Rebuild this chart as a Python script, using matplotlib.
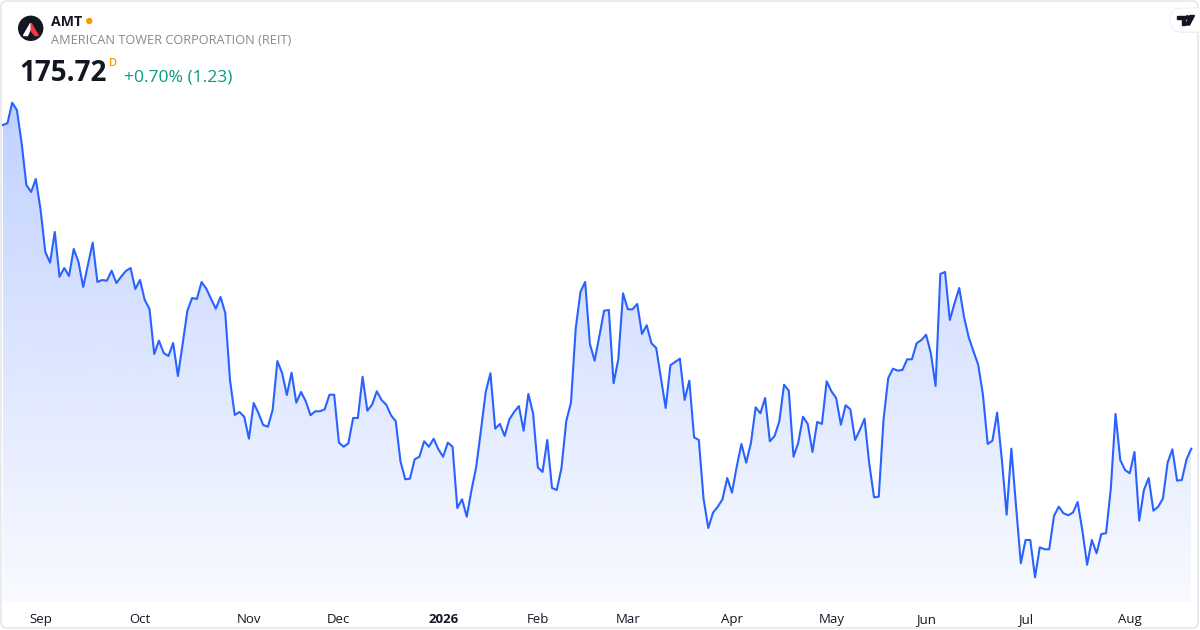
import numpy as np
import pandas as pd
import matplotlib.pyplot as plt
from matplotlib.patches import Circle, Polygon, FancyBboxPatch

plt.rcParams['font.family'] = ['Open Sans', 'DejaVu Sans']

symbol = "AMT"
company = "AMERICAN TOWER CORPORATION (REIT)"
last_price = "175.72"
change_text = "+0.70% (1.23)"

first_day = "2025-08-20"
holidays = ["2025-09-01", "2025-11-27", "2025-12-25", "2026-01-01", "2026-01-19",
            "2026-02-16", "2026-04-03", "2026-05-25", "2026-06-19", "2026-07-03"]
tick_months = ["2025-09-01", "2025-10-01", "2025-11-01", "2025-12-01", "2026-01-01", "2026-02-01",
               "2026-03-01", "2026-04-01", "2026-05-01", "2026-06-01", "2026-07-01", "2026-08-01"]
tick_labels = ["Sep", "Oct", "Nov", "Dec", "2026", "Feb", "Mar", "Apr", "May", "Jun", "Jul", "Aug"]

# daily closes
close_a = [213.27, 213.47, 215.86, 215.01, 211.18, 206.31, 205.50, 207.01, 203.41, 198.54,
           197.30, 200.86, 195.67, 196.68, 195.75, 198.89, 197.38, 194.48, 197.03, 199.62,
           195.06, 195.29, 195.21, 196.37, 194.94, 195.67, 196.33, 196.68, 194.25, 195.29,
           192.97, 191.93, 186.71, 188.25, 186.82, 186.47, 187.98, 184.15, 187.87, 191.73,
           193.20, 193.09, 195.06, 194.28, 193.09, 191.96, 193.32, 191.46, 183.69, 179.63,
           179.98, 179.43, 176.88, 181.02, 179.86, 178.47, 178.27, 180.21, 185.89, 184.50,
           181.95, 184.54]
close_b = [181.06, 182.30, 181.22, 179.60, 180.06, 180.06, 180.29, 181.98, 181.98, 176.42,
           175.95, 176.35, 179.28, 179.28, 184.07, 180.13, 180.82, 182.38, 181.37, 180.82,
           179.60, 178.90, 174.26, 172.17, 172.24, 174.49, 174.79, 176.58, 175.95, 176.88,
           175.65, 174.79, 176.42, 175.95, 168.84, 169.85, 167.83, 170.93, 173.63, 177.89,
           182.30, 184.47, 178.04, 178.59, 177.19, 179.13, 179.98, 180.67, 177.81, 182.07,
           179.83, 173.56, 173.02, 176.73, 171.16, 170.93, 173.48, 178.90, 181.06, 189.64,
           193.90, 195.06]
close_c = [187.87, 185.93, 188.79, 191.73, 191.81, 183.31, 186.09, 193.75, 191.89, 191.89,
           192.51, 189.03, 190.04, 187.95, 187.40, 183.92, 180.44, 185.40, 185.78, 186.16,
           181.37, 183.61, 177.04, 176.73, 169.92, 166.52, 168.30, 168.99, 169.85, 172.32,
           170.62, 173.63, 176.27, 174.10, 176.35, 180.52, 179.83, 181.60, 176.58, 177.19,
           178.90, 183.14, 182.45, 174.79, 176.42, 179.43, 178.59, 175.34, 178.82, 178.59,
           183.54, 182.38, 181.60, 178.50, 180.76, 180.29, 176.73, 177.89, 179.20, 173.95]
close_d = [170.08, 170.15, 179.05, 183.92, 185.00, 184.77, 184.85, 186.09, 186.09, 187.95,
           188.33, 188.94, 186.79, 182.99, 195.99, 196.22, 190.65, 192.59, 194.36, 191.03,
           188.64, 187.02, 185.46, 181.98, 176.27, 176.65, 179.90, 174.41, 168.06, 175.72,
           168.99, 162.43, 165.13, 165.13, 160.80, 164.28, 164.05, 164.05, 167.91, 168.99,
           168.23, 168.00, 168.30, 169.54, 166.21, 162.26, 165.13, 163.59, 165.83, 165.91,
           171.08, 179.75, 174.41, 173.25, 172.87, 175.34, 167.37, 170.93, 172.32, 168.53,
           168.99, 169.92, 174.10, 175.65, 172.01, 172.09, 174.49, 175.72]

close = np.array(close_a + close_b + close_c + close_d)
n = len(close)
days = pd.bdate_range(first_day, periods=n, freq='C', holidays=holidays)
idx = np.arange(n)
tick_pos = days.searchsorted(pd.to_datetime(tick_months))

W, H = 1200, 630
fig = plt.figure(figsize=(12, 6.3), dpi=100)
fig.patch.set_facecolor('white')

ax = fig.add_axes([2.7 / W, (H - 601.7) / H, (1191.3 - 2.7) / W, (601.7 - 90) / H])
ylo, yhi = 157.97, 217.33
ax.set_xlim(0, n - 1)
ax.set_ylim(ylo, yhi)
ax.patch.set_alpha(0)

# gradient area under the line
grad = np.zeros((256, 1, 4))
grad[:, :, 0] = 41 / 255
grad[:, :, 1] = 98 / 255
grad[:, :, 2] = 1.0
grad[:, 0, 3] = np.linspace(0.30, 0.03, 256)
im = ax.imshow(grad, extent=[0, n - 1, ylo, yhi], aspect='auto', origin='upper', zorder=1)
verts = np.column_stack([np.r_[idx, idx[::-1]], np.r_[close, np.full(n, ylo)]])
clip = Polygon(verts, closed=True, facecolor='none', edgecolor='none', transform=ax.transData)
ax.add_patch(clip)
im.set_clip_path(clip)

ax.plot(idx, close, color='#2962FF', lw=1.5, solid_joinstyle='round', clip_on=False, zorder=3)

for s in ax.spines.values():
    s.set_visible(False)
ax.set_yticks([])
ax.set_xticks(tick_pos, tick_labels)
ax.tick_params(axis='x', length=0, pad=8, labelsize=9.5, labelcolor='#131722')
for lab in ax.get_xticklabels():
    if lab.get_text() == "2026":
        lab.set_fontweight('bold')

# header and frame drawn in pixel coordinates
ov = fig.add_axes([0, 0, 1, 1])
ov.set_xlim(0, W)
ov.set_ylim(H, 0)
ov.axis('off')
ov.patch.set_alpha(0)

ov.add_patch(FancyBboxPatch((1, 1), W - 3, H - 3, boxstyle='round,pad=0,rounding_size=6',
                            fc='none', ec='#e0e3eb', lw=1))

ov.add_patch(Circle((30.7, 28.3), 12, color='#131722'))
ov.add_patch(Polygon([(23.5, 35.5), (30.5, 23.5), (31.5, 26.5), (27.5, 35.5)], closed=True, color='white'))
ov.add_patch(Polygon([(31.2, 23.5), (38.3, 35.5), (35, 35.5), (31.2, 31)], closed=True, color='#f23645'))

ov.text(51, 26, symbol, fontsize=10.2, fontweight='bold', color='#131722', va='baseline')
ov.add_patch(Circle((89.3, 21), 2.5, color='#FF9800'))
ov.text(51, 44.5, company, fontsize=9.2, color='#868993', va='baseline')
ov.text(19, 81, last_price, fontsize=20, fontweight='bold', color='#131722', va='baseline')
ov.text(108.5, 65.5, "D", fontsize=8, fontweight='semibold', color='#FF9800', va='baseline')
ov.text(124, 81.7, change_text, fontsize=12.6, color='#089981', va='baseline')

# TradingView badge
ov.add_patch(FancyBboxPatch((1171, 9), 40, 24, boxstyle='round,pad=0,rounding_size=12',
                            fc='#f0f1f4', ec='none', lw=0))
ov.add_patch(FancyBboxPatch((1170, 8), 40, 24, boxstyle='round,pad=0,rounding_size=12',
                            fc='white', ec='#eceef2', lw=0.6))
ov.add_patch(Polygon([(1176.5, 15.5), (1185, 15.5), (1185, 25), (1181.5, 25), (1181.5, 19), (1176.5, 19)],
                     closed=True, color='#131722'))
ov.add_patch(Circle((1187.3, 17.5), 1.7, color='#131722'))
ov.add_patch(Polygon([(1190, 15.5), (1194.5, 15.5), (1189.5, 25), (1185.5, 25)], closed=True, color='#131722'))

fig.savefig('out.png', dpi=100)
